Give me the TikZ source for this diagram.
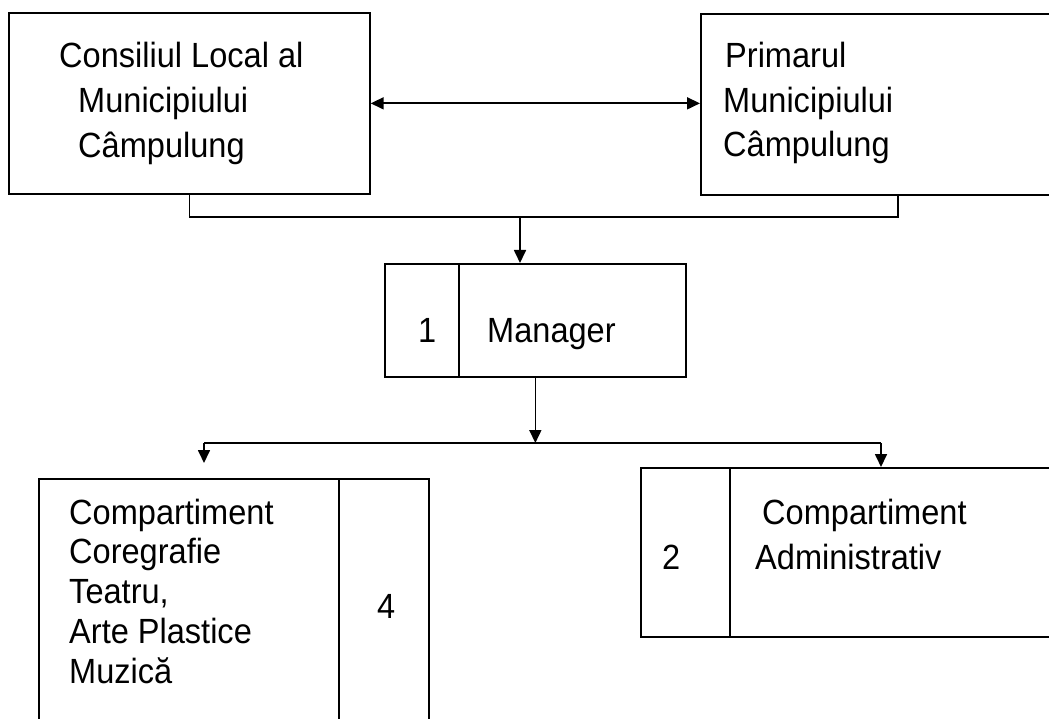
\documentclass[tikz,border=0pt]{standalone}
\usepackage{fontspec}
\setmainfont[FakeStretch=0.93]{Liberation Sans}
\usetikzlibrary{arrows.meta, positioning, calc}
\tikzset{
	box/.style={rectangle, draw, line width=1.7pt, inner sep=0pt},
	wire/.style={draw, line width=1.7pt},
	line/.style={draw, line width=1.7pt, -{Triangle[length=13pt, width=12pt]}},
	dline/.style={draw, line width=1.7pt, {Triangle[length=13pt, width=12pt]}-{Triangle[length=13pt, width=12pt]}},
	lbl/.style={anchor=base west, align=left, inner sep=0pt}
}

\begin{document}
\begin{tikzpicture}[x=1pt, y=-1pt]
	\useasboundingbox (0,0) rectangle (1049,719);
	\clip (0,0) rectangle (1049,719);

	% --- Boxes ---
	\node[box, anchor=north west, minimum width=361pt, minimum height=181pt] (council) at (8,12) {};
	\node[box, anchor=north west, minimum width=394pt, minimum height=181pt] (mayor) at (700,13) {};
	\node[box, anchor=north west, minimum width=301pt, minimum height=113pt] (mgr) at (384,263) {};
	\node[box, anchor=north west, minimum width=390pt, minimum height=290pt] (arts) at (38,478) {};
	\node[box, anchor=north west, minimum width=460pt, minimum height=169pt] (admin) at (640,467) {};

	% --- Dividers ---
	\draw[wire] ($(mgr.north west)+(75,0)$) -- ($(mgr.south west)+(75,0)$);
	\draw[wire] ($(arts.north west)+(301,0)$) -- ($(arts.south west)+(301,0)$);
	\draw[wire] ($(admin.north west)+(90,0)$) -- ($(admin.south west)+(90,0)$);

	% --- Texts (anchored at the last line) ---
	\node[lbl, font=\fontsize{35}{45}\selectfont] (council_txt) at (59,158)
		{Consiliul Local al\\\hspace*{19pt}Municipiului\\\hspace*{19pt}Câmpulung};
	\node[lbl, font=\fontsize{35}{44.5}\selectfont] (mayor_txt) at (723,157)
		{\hspace*{2pt}Primarul\\Municipiului\\Câmpulung};
	\node[lbl, font=\fontsize{35}{40}\selectfont] (mgr_num) at (418,342) {1};
	\node[lbl, font=\fontsize{35}{40}\selectfont] (mgr_txt) at (487,342) {Manager};
	\node[lbl, font=\fontsize{35}{39.75}\selectfont] (arts_txt) at (69,683)
		{Compartiment\\Coregrafie\\Teatru,\\Arte Plastice\\Muzică};
	\node[lbl, font=\fontsize{35}{40}\selectfont] (arts_num) at (377,618) {4};
	\node[lbl, font=\fontsize{35}{45}\selectfont] (admin_txt) at (755,569)
		{\hspace*{7pt}Compartiment\\Administrativ};
	\node[lbl, font=\fontsize{35}{40}\selectfont] (admin_num) at (662,569) {2};

	% --- Connections ---
	\coordinate (topbus) at (520,217);
	\coordinate (busL) at (204,443);
	\coordinate (busR) at (881,443);
	\draw[dline] (council.east) -- (council.east -| mayor.west);
	\draw[wire] (council.south) |- (topbus) -| (mayor.south);
	\draw[line] (topbus) -- (topbus |- mgr.north);
	\draw[line] (mgr.south) -- (mgr.south |- busL);
	\draw[wire] (busL) -- (busR);
	\draw[line, shorten >=15pt] (busL) -- (busL |- arts.north);
	\draw[line] (busR) -- (busR |- admin.north);
\end{tikzpicture}
\end{document}
